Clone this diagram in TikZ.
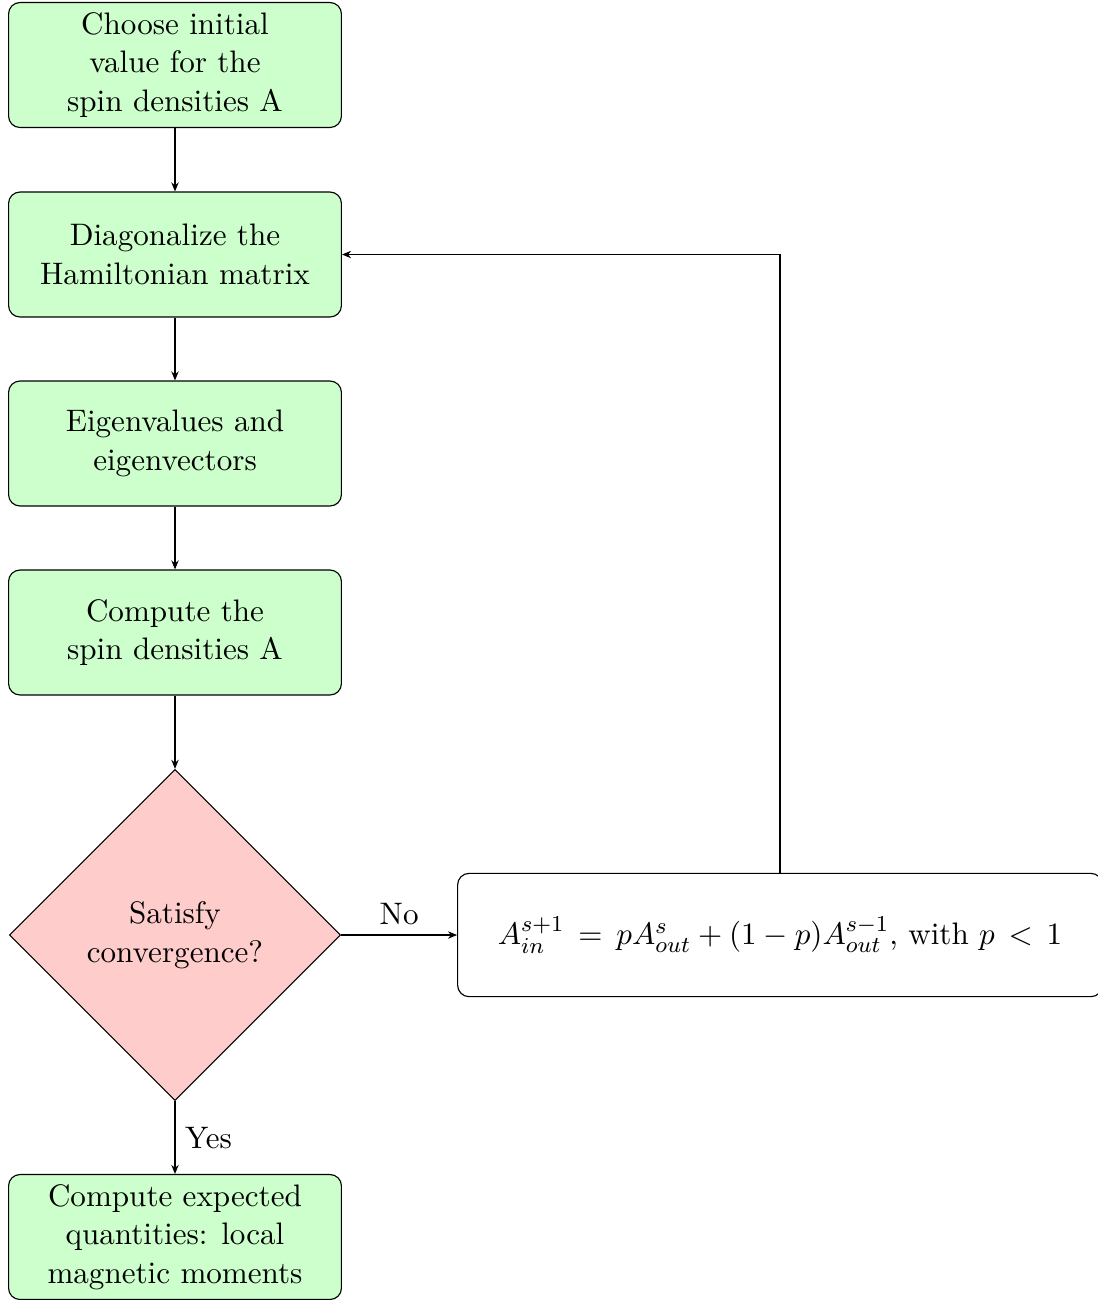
\documentclass[tikz,border=0pt]{standalone}
\usetikzlibrary{shapes.geometric,arrows.meta}
\begin{document}
\begin{tikzpicture}[x=0.35211pt,y=-0.35211pt,
  font=\fontsize{10.95}{13.6}\selectfont,
  procbox/.style={draw=black, fill=green!20, rounded corners=4pt, align=center,
    minimum width=117.2pt, minimum height=44pt, inner sep=2pt},
  decbox/.style={draw=black, fill=red!20, diamond, align=center,
    minimum width=116.6pt, minimum height=116.6pt, inner sep=0pt},
  formbox/.style={draw=black, fill=white, rounded corners=4pt,
    minimum width=227pt, minimum height=43.4pt},
  conn/.style={-{Stealth[length=3.2pt,width=2.6pt]}, line width=0.4pt}]
\useasboundingbox (0,0) rectangle (1098,1300);
\node[procbox] (init) at (175,65) {Choose initial\\value for the\\spin densities A};
\node[procbox] (diag) at (175,254.5) {Diagonalize the\\Hamiltonian matrix};
\node[procbox] (eig) at (175,443.5) {Eigenvalues and\\eigenvectors};
\node[procbox] (comp) at (175,632.5) {Compute the\\spin densities A};
\node[decbox] (conv) at (175,935) {Satisfy\\convergence?};
\node[procbox] (res) at (175,1237) {Compute expected\\quantities: local\\magnetic moments};
\node[formbox] (mix) at (780,935) {$A_{in}^{s+1} \,=\, pA_{out}^{s} + (1-p)A_{out}^{s-1}$, with $p \,<\, 1$};
\draw[conn] (init) -- (diag);
\draw[conn] (diag) -- (eig);
\draw[conn] (eig) -- (comp);
\draw[conn] (comp) -- (conv);
\draw[conn] (conv) -- node[above] {No} (mix);
\draw[conn] (conv) -- node[right] {Yes} (res);
\draw[conn] (mix.north) |- (diag.east);
\end{tikzpicture}
\end{document}
